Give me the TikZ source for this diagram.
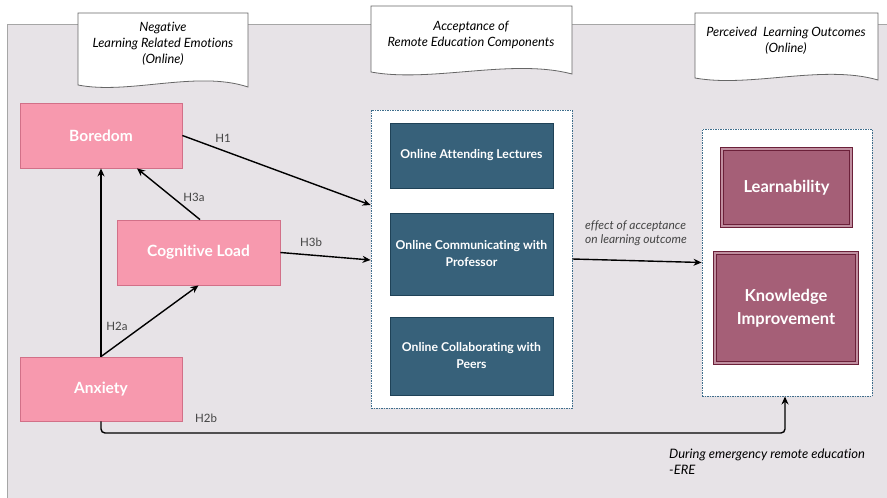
\documentclass[tikz,border=0pt]{standalone}
\usepackage{fontspec}
\setmainfont[Ligatures=CommonOff]{Lato}
\usetikzlibrary{arrows.meta}
\definecolor{bgc}{HTML}{E7E3E7}
\definecolor{pinkf}{HTML}{F799AE}
\definecolor{pinkd}{HTML}{D27088}
\definecolor{tealf}{HTML}{37617A}
\definecolor{teald}{HTML}{1F4257}
\definecolor{maroonf}{HTML}{A55F77}
\definecolor{maroond}{HTML}{6B2039}
\definecolor{dashc}{HTML}{3F6E8C}
\definecolor{lblc}{HTML}{444444}
\tikzset{
  pinkbox/.style={draw=pinkd, fill=pinkf, line width=0.8pt, text=white, font=\fontsize{15.5}{18}\selectfont\bfseries},
  tealbox/.style={draw=teald, fill=tealf, line width=0.8pt, text=white, align=center, font=\fontsize{12.2}{17}\selectfont\bfseries},
  maroonbox/.style={draw=maroond, double=maroonf!70!white, double distance=2pt, line width=0.8pt, fill=maroonf, text=white, align=center, font=\fontsize{16.5}{23}\selectfont\bfseries},
  container/.style={draw=dashc, fill=white, dash pattern=on 1.5pt off 1pt, line width=0.9pt},
  doc/.style={draw=gray!80!black, fill=white, line width=0.8pt},
  doctext/.style={align=center, font=\fontsize{12.8}{16}\selectfont\itshape},
  arr/.style={-{Stealth[length=8pt,width=7pt]}, line width=1.4pt, black},
  hlbl/.style={text=lblc, font=\fontsize{11.5}{13}\selectfont},
  note/.style={align=left, anchor=north west, font=\fontsize{12}{14}\selectfont\itshape}
}
\begin{document}
\begin{tikzpicture}[x=1pt,y=-1pt]
\useasboundingbox (0,0) rectangle (887,498);
% background
\fill[bgc] (7,24) rectangle (895,505);
\draw[gray!70, line width=0.8pt] (7,505) -- (7,24) -- (895,24);
% title documents
\draw[doc] (78,85) -- (78,13) -- (248,13) -- (248,87) .. controls (197,70) and (129,95) .. (78,85) -- cycle;
\node[doctext] (t1) at (163,44) {Negative\\Learning Related Emotions\\(Online)};
\draw[doc] (371,72) -- (371,6) -- (572,6) -- (572,74) .. controls (512,58) and (431,83) .. (371,72) -- cycle;
\node[doctext] (t2) at (471,35) {Acceptance of\\Remote Education Components};
\draw[doc] (695,78) -- (695,13) -- (878,13) -- (878,80) .. controls (823,64) and (750,88) .. (695,78) -- cycle;
\node[doctext] (t3) at (786,41) {Perceived\ \ Learning Outcomes\\(Online)};
% containers
\node[container, minimum width=201pt, minimum height=298pt] (mid) at (471.5,259) {};
\node[container, minimum width=170pt, minimum height=267pt] (right) at (787,262.5) {};
% pink boxes
\node[pinkbox, minimum width=162pt, minimum height=65pt] (bored) at (101,135.5) {Boredom};
\node[pinkbox, minimum width=163pt, minimum height=65pt] (cog) at (198.5,252.5) {Cognitive Load};
\node[pinkbox, minimum width=162pt, minimum height=64pt] (anx) at (101,389) {Anxiety};
% teal boxes
\node[tealbox, minimum width=163pt, minimum height=65pt] (c1) at (471.5,155.5) {Online Attending Lectures};
\node[tealbox, minimum width=163pt, minimum height=82pt] (c2) at (471.5,254) {Online Communicating with\\Professor};
\node[tealbox, minimum width=163pt, minimum height=78pt] (c3) at (471.5,356) {Online Collaborating with\\Peers};
% maroon boxes
\node[maroonbox, minimum width=129pt, minimum height=77pt] (learn) at (786.5,187.5) {Learnability};
\node[maroonbox, minimum width=142pt, minimum height=110pt] (know) at (786,308) {Knowledge\\Improvement};
% arrows
\draw[arr] (bored.east) -- ([yshift=54pt]mid.west);
\draw[arr] ([xshift=1.5pt]cog.north) -- ([xshift=36pt]bored.south);
\draw[arr] (cog.east) -- ([yshift=-1pt]mid.west);
\draw[arr] (anx.north) -- (bored.south);
\draw[arr] (anx.north) -- (cog.south);
\draw[arr] (mid.east) -- (right.west);
\coordinate (ereY) at (0,433);
\draw[arr, rounded corners=4pt] (anx.south) -- (anx.south |- ereY) -- ([xshift=-2pt]right.south |- ereY) -- ([xshift=-2pt]right.south);
% labels
\node[hlbl] (h1) at (223,138) {H1};
\node[hlbl] (h3a) at (194,197) {H3a};
\node[hlbl] (h3b) at (311,242) {H3b};
\node[hlbl] (h2a) at (117,326) {H2a};
\node[hlbl] (h2b) at (206,418) {H2b};
\node[note, text=lblc, inner sep=0pt] (eff) at (585,221) {effect of acceptance\\on learning outcome};
\node[note, font=\fontsize{13}{16}\selectfont\itshape, inner sep=0pt] (ere) at (669,449) {During emergency remote education\\-ERE};
\end{tikzpicture}
\end{document}
